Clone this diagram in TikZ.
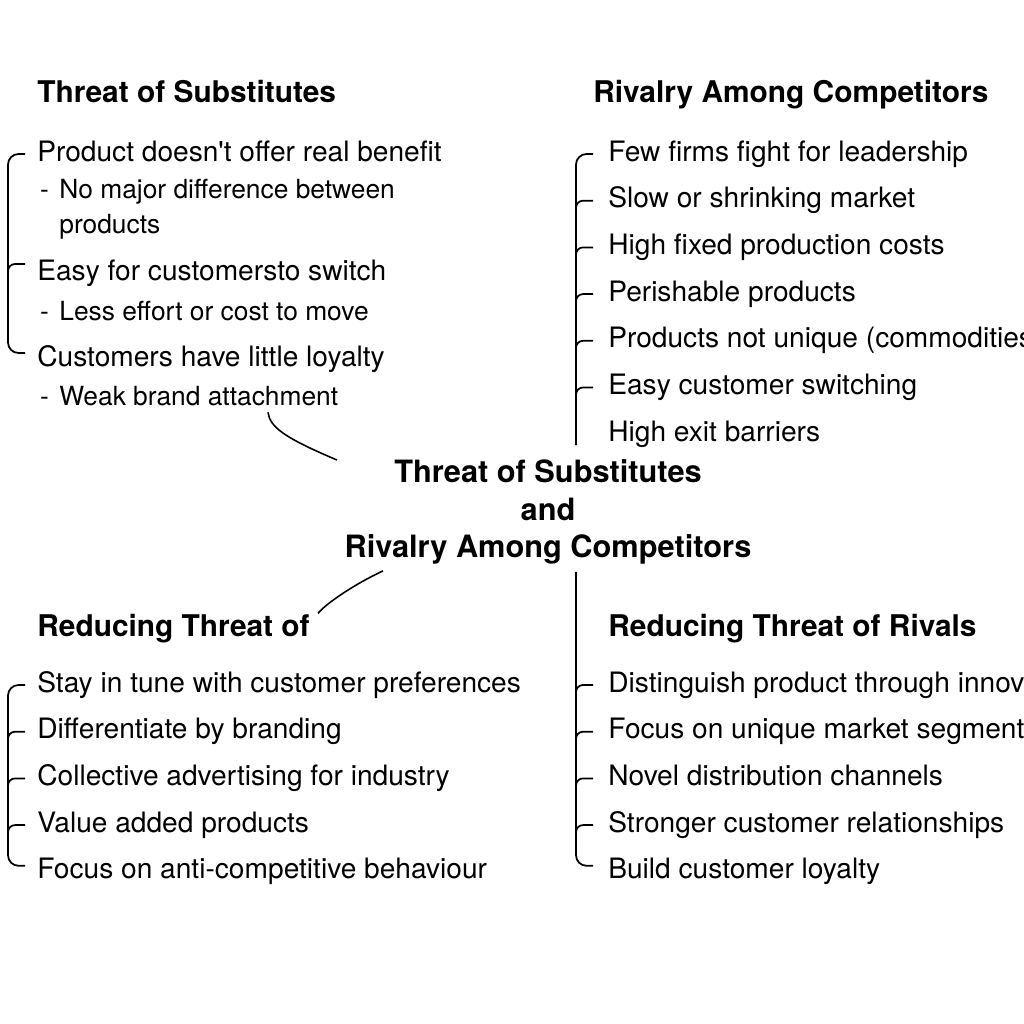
\documentclass[tikz,border=0pt]{standalone}
\usepackage{fontspec}
\setmainfont{TeX Gyre Heros}
\usetikzlibrary{positioning, calc}

\begin{document}
\begin{tikzpicture}[
    x=0.02cm,
    y=-0.02cm,
    node distance=0.36cm,
    heading/.style={
        inner sep=0pt,
        anchor=base west,
        font=\fontsize{17}{20}\selectfont\bfseries
    },
    listitem/.style={
        inner sep=0pt,
        text height=0.42cm,
        text depth=0.14cm,
        font=\fontsize{16}{19.8}\selectfont
    },
    subitem/.style={
        listitem,
        anchor=base west,
        font=\fontsize{15}{18}\selectfont
    },
    maintitle/.style={
        inner sep=0pt,
        align=center,
        font=\fontsize{17.5}{21.5}\selectfont\bfseries
    },
    bracket/.style={
        line width=1pt,
        rounded corners=6pt
    },
    tick/.style={
        line width=1pt,
        rounded corners=4pt
    },
    link/.style={
        line width=0.9pt
    }
]
\clip (0,0) rectangle (1024,1024);
\fill[white] (0,0) rectangle (1024,1024);

% Headings
\node[heading] (hsub) at (37,103) {Threat of Substitutes};
\node[heading] (hriv) at (593,103) {Rivalry Among Competitors};
\node[heading] (hred) at (37,636) {Reducing Threat of};
\node[heading] (hrr) at (608,636) {Reducing Threat of Rivals};

% Threat of substitutes
\node[listitem, anchor=base west] (s1) at (37,161) {Product doesn\textquotesingle t offer real benefit};
\node[subitem] (s1a) at (59,198) {\llap{-\kern6pt}No major difference between};
\node[subitem] (s1b) at (59,233) {products};
\node[listitem, anchor=base west] (s2) at (37,280) {Easy for customersto switch};
\node[subitem] (s2a) at (59,320) {\llap{-\kern6pt}Less effort or cost to move};
\node[listitem, anchor=base west] (s3) at (37,366) {Customers have little loyalty};
\node[subitem] (s3a) at (59,405) {\llap{-\kern6pt}Weak brand attachment};

% Rivalry among competitors
\node[listitem, anchor=base west] (r1) at (608,161) {Few firms fight for leadership};
\node[listitem, below=of r1.south west, anchor=north west] (r2) {Slow or shrinking market};
\node[listitem, below=of r2.south west, anchor=north west] (r3) {High fixed production costs};
\node[listitem, below=of r3.south west, anchor=north west] (r4) {Perishable products};
\node[listitem, below=of r4.south west, anchor=north west] (r5) {Products not unique (commodities)};
\node[listitem, below=of r5.south west, anchor=north west] (r6) {Easy customer switching};
\node[listitem, below=of r6.south west, anchor=north west] (r7) {High exit barriers};

% Centre title
\node[maintitle, anchor=north] (core) at (548,459) {Threat of Substitutes\\and\\Rivalry Among Competitors};

% Reducing threat of substitutes
\node[listitem, anchor=base west] (t1) at (37,692) {Stay in tune with customer preferences};
\node[listitem, below=of t1.south west, anchor=north west] (t2) {Differentiate by branding};
\node[listitem, below=of t2.south west, anchor=north west] (t3) {Collective advertising for industry};
\node[listitem, below=of t3.south west, anchor=north west] (t4) {Value added products};
\node[listitem, below=of t4.south west, anchor=north west] (t5) {Focus on anti-competitive behaviour};

% Reducing threat of rivals
\node[listitem, anchor=base west] (u1) at (608,692) {Distinguish product through innovation};
\node[listitem, below=of u1.south west, anchor=north west] (u2) {Focus on unique market segments};
\node[listitem, below=of u2.south west, anchor=north west] (u3) {Novel distribution channels};
\node[listitem, below=of u3.south west, anchor=north west] (u4) {Stronger customer relationships};
\node[listitem, below=of u4.south west, anchor=north west] (u5) {Build customer loyalty};

% Brackets
\draw[bracket] ($(s1.west)+(-12,0)$) -| ($(s3.west)+(-29,-6)$) -- ($(s3.west)+(-12,-6)$);
\draw[tick] ($(s2.west)+(-29,-1)$) |- ($(s2.west)+(-12,-9)$);

\draw[bracket] ($(r1.west)+(-15,0)$) -| ($(r7.west)+(-32,11)$);
\draw[tick] ($(r2.west)+(-32,8)$) |- ($(r2.west)+(-15,0)$);
\draw[tick] ($(r3.west)+(-32,8)$) |- ($(r3.west)+(-15,0)$);
\draw[tick] ($(r4.west)+(-32,8)$) |- ($(r4.west)+(-15,0)$);
\draw[tick] ($(r5.west)+(-32,8)$) |- ($(r5.west)+(-15,0)$);
\draw[tick] ($(r6.west)+(-32,8)$) |- ($(r6.west)+(-15,0)$);

\draw[bracket] ($(t1.west)+(-12,0)$) -| ($(t5.west)+(-29,-6)$) -- ($(t5.west)+(-12,-6)$);
\draw[tick] ($(t2.west)+(-29,8)$) |- ($(t2.west)+(-12,0)$);
\draw[tick] ($(t3.west)+(-29,8)$) |- ($(t3.west)+(-12,0)$);
\draw[tick] ($(t4.west)+(-29,8)$) |- ($(t4.west)+(-12,0)$);

\coordinate (rbar) at ($(u1.west)+(-32,0)$);
\draw[bracket] ([yshift=-0.14cm]rbar |- core.south) |- ($(u5.west)+(-15,-6)$);
\draw[tick] ($(u1.west)+(-32,8)$) |- ($(u1.west)+(-15,0)$);
\draw[tick] ($(u2.west)+(-32,8)$) |- ($(u2.west)+(-15,0)$);
\draw[tick] ($(u3.west)+(-32,8)$) |- ($(u3.west)+(-15,0)$);
\draw[tick] ($(u4.west)+(-32,8)$) |- ($(u4.west)+(-15,0)$);

% Links to the centre title
\draw[link] ([xshift=4.18cm]s3a.south west) .. controls +(2,15) and +(-52,-22) .. ($(core.north)+(-211,1)$);
\draw[link] ($(core.south)+(-165,6)$) .. controls +(-28,13) and +(8,-10) .. ($(hred.north east)+(8,0)$);

\end{tikzpicture}
\end{document}
